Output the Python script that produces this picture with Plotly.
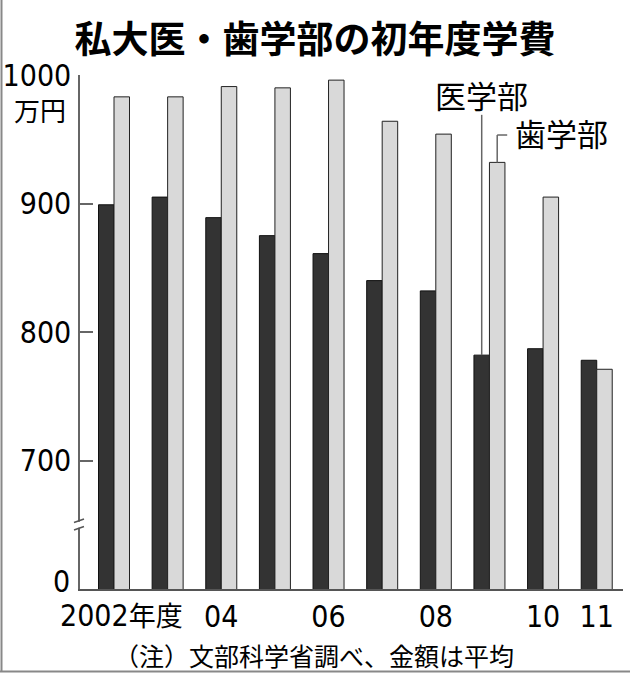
import plotly.graph_objects as go

years = [2002, 2003, 2004, 2005, 2006, 2007, 2008, 2009, 2010, 2011]
medical = [899, 905, 889, 875, 861, 840, 832, 782, 787, 778]
dental = [983, 983, 991, 990, 996, 964, 954, 932, 905, 771]
xtick_vals = [2004, 2006, 2008, 2010, 2011]
xtick_text = ["04", "06", "08", "10", "11"]
ytick_vals = [700, 800, 900, 1000]
ytick_text = ["700", "800", "900", "1000"]

NUM_FONT = "DejaVu Sans Condensed, Liberation Sans Narrow, sans-serif"
CJK_FONT = "Noto Sans CJK JP, sans-serif"
NUM_SIZE = 30

fig = go.Figure()
fig.add_trace(go.Bar(x=years, y=medical, name="医学部",
                     marker=dict(color="#333333", line=dict(color="#111111", width=1))))
fig.add_trace(go.Bar(x=years, y=dental, name="歯学部",
                     marker=dict(color="#d9d9d9", line=dict(color="#222222", width=1))))

fig.update_layout(
    width=630, height=674,
    margin=dict(l=80, r=7, t=75, b=85),
    paper_bgcolor="white", plot_bgcolor="white",
    barmode="group", bargap=0.422, bargroupgap=0,
    showlegend=False,
    title=dict(text="<b>私大医・歯学部の初年度学費</b>", x=0.5, xref="container",
               y=1 - 40 / 674, yref="container", yanchor="middle", xanchor="center",
               font=dict(family=CJK_FONT, size=37, color="black")),
)

fig.update_xaxes(range=[2001.366, 2011.49], tickvals=xtick_vals, ticktext=xtick_text,
                 showline=True, linecolor="#555555", linewidth=1.5, ticks="",
                 showgrid=False, zeroline=False, automargin=False,
                 tickfont=dict(family=NUM_FONT, size=NUM_SIZE, color="black"))
fig.update_yaxes(range=[600, 1000], tickvals=ytick_vals, ticktext=ytick_text,
                 showline=True, linecolor="#666666", linewidth=1.5,
                 ticks="inside", ticklen=13, tickcolor="#666666", tickwidth=1.5,
                 showgrid=False, zeroline=False, ticklabelstandoff=1, automargin=False,
                 tickfont=dict(family=NUM_FONT, size=NUM_SIZE, color="black"))

# axis break marks
fig.add_shape(type="rect", xref="paper", xsizemode="pixel", xanchor=0, x0=-3, x1=3,
              yref="y", ysizemode="pixel", yanchor=650, y0=-3, y1=3,
              fillcolor="white", line=dict(width=0), layer="above")
for dy in (4, -3.5):
    fig.add_shape(type="line", xref="paper", xsizemode="pixel", xanchor=0, x0=-6, x1=4,
                  yref="y", ysizemode="pixel", yanchor=650, y0=dy - 1.7, y1=dy + 1.7,
                  line=dict(color="#555555", width=1.5), layer="above")

# "0" label and unit
fig.add_annotation(xref="paper", x=0, xanchor="right", xshift=-8, yref="y", y=600,
                   yshift=8, text="0", showarrow=False,
                   font=dict(family=NUM_FONT, size=NUM_SIZE, color="black"))
fig.add_annotation(xref="paper", x=0, xanchor="center", xshift=-40, yref="y", y=972.8,
                   text="万円", showarrow=False,
                   font=dict(family=CJK_FONT, size=26, color="black"))
fig.add_annotation(x=years[0], xanchor="center", xshift=7, yref="paper", y=0,
                   yanchor="top", yshift=-7,
                   text="2002<span style='font-size:27px'>年度</span>", showarrow=False,
                   font=dict(family=NUM_FONT + ", " + CJK_FONT, size=NUM_SIZE, color="black"))

# series labels with leader lines
bw = (1 - 0.422) / 2
med_x = years[7] - bw / 2
den_x = years[7] + bw / 2
fig.add_shape(type="line", x0=med_x, x1=med_x, y0=medical[7], y1=969,
              line=dict(color="#666666", width=1.5))
fig.add_shape(type="line", x0=den_x, x1=den_x, y0=dental[7], y1=953.3,
              line=dict(color="#666666", width=1.5))
fig.add_shape(type="line", xref="x", xsizemode="pixel", xanchor=den_x, x0=0, x1=10,
              y0=953.3, y1=953.3, line=dict(color="#666666", width=1.5))
fig.add_annotation(x=med_x, y=985, text="医学部", showarrow=False, xanchor="center",
                   yanchor="middle", font=dict(family=CJK_FONT, size=31, color="black"))
fig.add_annotation(x=den_x, xshift=16, y=955.6, text="歯学部", showarrow=False,
                   xanchor="left", yanchor="middle",
                   font=dict(family=CJK_FONT, size=31, color="black"))

# footnote
fig.add_annotation(xref="paper", x=(313.5 - 80) / 543, yref="paper", y=-(655 - 589) / 514,
                   xanchor="center", yanchor="middle", showarrow=False,
                   text="（注）文部科学省調べ、金額は平均",
                   font=dict(family=CJK_FONT, size=25, color="black"))

# frame (left and bottom)
fig.add_shape(type="line", xref="paper", xsizemode="pixel", xanchor=0, x0=-78.5, x1=-78.5,
              yref="paper", y0=-(671.5 - 589) / 514, y1=589 / 514,
              line=dict(color="#888888", width=2))
fig.add_shape(type="line", xref="paper", x0=-80 / 543, x1=1 + 7 / 543,
              yref="paper", y0=-(671.5 - 589) / 514, y1=-(671.5 - 589) / 514,
              line=dict(color="#888888", width=2))

fig.write_html("out.html", config={"displayModeBar": False},
               post_script="document.body.style.margin='0';document.body.style.overflow='hidden';")
